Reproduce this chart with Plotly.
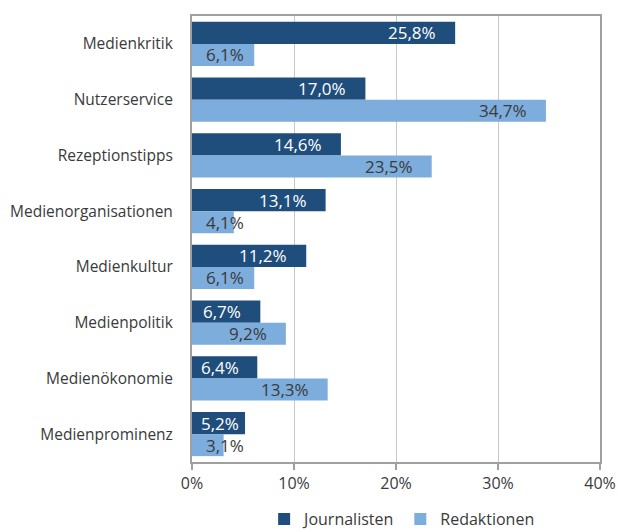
import plotly.graph_objects as go

categories = ["Medienkritik", "Nutzerservice", "Rezeptionstipps", "Medienorganisationen",
              "Medienkultur", "Medienpolitik", "Medienökonomie", "Medienprominenz"]
journalisten = [25.8, 17.0, 14.6, 13.1, 11.2, 6.7, 6.4, 5.2]
redaktionen = [6.1, 34.7, 23.5, 4.1, 6.1, 9.2, 13.3, 3.1]
tick_vals = [0, 10, 20, 30, 40]
tick_text = ["0%", "10%", "20%", "30%", "40%"]

DARK = "#1F4E7C"
LIGHT = "#7DADDC"
FONT = "Open Sans"
TXT = "#3a3a3a"

fig = go.Figure()
fig.add_trace(go.Bar(y=categories, x=journalisten, orientation="h", name="Journalisten",
                     marker=dict(color=DARK, line=dict(width=0))))
fig.add_trace(go.Bar(y=categories, x=redaktionen, orientation="h", name="Redaktionen",
                     marker=dict(color=LIGHT, line=dict(width=0))))

def fmt(v):
    return f"{v:.1f}".replace(".", ",") + "%"

annotations = []
for cat, v in zip(categories, journalisten):
    annotations.append(dict(x=max(v, 6.5), y=cat, yshift=11, xshift=-17, text=fmt(v),
                            xanchor="right", yanchor="middle", showarrow=False,
                            font=dict(color="white", size=17, family=FONT)))
for cat, v in zip(categories, redaktionen):
    annotations.append(dict(x=max(v, 7.0), y=cat, yshift=-11, xshift=-17, text=fmt(v),
                            xanchor="right", yanchor="middle", showarrow=False,
                            font=dict(color=TXT, size=17, family=FONT)))

fig.update_layout(
    width=618, height=532,
    margin=dict(l=192, r=18, t=16, b=70, autoexpand=False),
    paper_bgcolor="white", plot_bgcolor="white",
    barmode="group", bargap=0.21, bargroupgap=0,
    font=dict(family=FONT, size=16, color=TXT),
    annotations=annotations,
    legend=dict(orientation="h", x=0.515, xanchor="center", y=-0.128, yanchor="middle",
                font=dict(size=16, color=TXT), itemwidth=30, tracegroupgap=0),
    showlegend=True,
)
fig.update_xaxes(range=[0, 40], tickvals=tick_vals, ticktext=tick_text,
                 showgrid=True, gridcolor="#c8c8c8", gridwidth=1,
                 showline=True, linecolor="#a0a0a0", linewidth=2, mirror=True,
                 ticks="outside", ticklen=6, tickcolor="#a0a0a0", tickwidth=2,
                 zeroline=False, tickfont=dict(size=16, color=TXT),
                 automargin=False)
fig.update_yaxes(autorange="reversed", showgrid=False,
                 showline=True, linecolor="#a0a0a0", linewidth=2, mirror=True,
                 ticks="", ticklabelstandoff=14, automargin=False,
                 tickfont=dict(size=15.5, color=TXT))

fig.write_html("out.html", config={"displayModeBar": False},
               post_script="document.body.style.margin='0';document.body.style.overflow='hidden';")
